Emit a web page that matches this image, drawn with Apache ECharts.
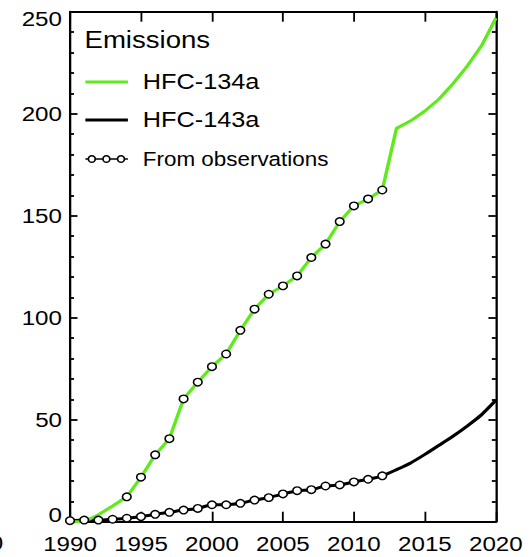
<!DOCTYPE html>
<html>
<head>
<meta charset="utf-8">
<script src="https://cdn.jsdelivr.net/npm/echarts@6/dist/echarts.min.js"></script>
<style>
  html, body { margin: 0; padding: 0; background: #fff; overflow: hidden; }
  #wrap { width: 530px; height: 557px; overflow: hidden; }
  /* the figure is laid out on a narrower canvas and widened horizontally */
  #chart { width: 461px; height: 557px; transform: scaleX(1.1497); transform-origin: 0 0; }
</style>
</head>
<body>
<div id="wrap"><div id="chart"></div></div>
<script>
// Years covered by the emission curves
const years = [1990, 1991, 1992, 1993, 1994, 1995, 1996, 1997, 1998, 1999,
               2000, 2001, 2002, 2003, 2004, 2005, 2006, 2007, 2008, 2009,
               2010, 2011, 2012, 2013, 2014, 2015, 2016, 2017, 2018, 2019, 2020];

// HFC-134a emissions (Gg/yr), full curve
const hfc134a = [0, 0, 3.4, 7.7, 12.2, 21.8, 32.8, 40.7, 60.2, 68.4,
                 76.0, 82.2, 93.8, 104.2, 111.5, 115.6, 120.5, 129.5, 136.1, 147.1,
                 154.8, 158.2, 162.6, 192.8, 196.5, 201.3, 207.2, 214.9, 223.5, 233.4, 246.8];

// HFC-143a emissions (Gg/yr), full curve
const hfc143a = [0.5, 0.8, 0.8, 1.2, 1.7, 2.5, 3.6, 4.6, 5.7, 6.5,
                 8.3, 8.3, 9.0, 10.6, 11.8, 13.6, 15.2, 15.7, 17.5, 18.0,
                 19.5, 20.8, 22.5, 25.5, 28.8, 33.0, 37.5, 42.0, 47.0, 52.5, 59.5];

// Observation-derived estimates
const obs134aYears = [1994, 1995, 1996, 1997, 1998, 1999, 2000, 2001, 2002, 2003,
                      2004, 2005, 2006, 2007, 2008, 2009, 2010, 2011, 2012];
const obs134a = [12.2, 21.8, 32.8, 40.7, 60.2, 68.4, 76.0, 82.2, 93.8, 104.2,
                 111.5, 115.6, 120.5, 129.5, 136.1, 147.1, 154.8, 158.2, 162.6];
const obs143aYears = [1990, 1991, 1992, 1993, 1994, 1995, 1996, 1997, 1998, 1999,
                      2000, 2001, 2002, 2003, 2004, 2005, 2006, 2007, 2008, 2009,
                      2010, 2011, 2012];
const obs143a = [0.5, 0.8, 0.8, 1.2, 1.7, 2.5, 3.6, 4.6, 5.7, 6.5,
                 8.3, 8.3, 9.0, 10.6, 11.8, 13.6, 15.2, 15.7, 17.5, 18.0,
                 19.5, 20.8, 22.5];

// Axis ticks
const xTicks = [1990, 1995, 2000, 2005, 2010, 2015, 2020];
const yTicks = [0, 50, 100, 150, 200, 250];

const GREEN = '#5fea1c';
const FONT = 'Liberation Sans, Arial, Helvetica, sans-serif';

const pairs = (xs, ys) => xs.map((x, i) => [x, ys[i]]);

// legend glyphs
const lineIcon = 'path://M0,0H37V3H0Z';
const obsIcon = 'path://M0,3.3H2.6M8.6,3.3H15.3M21.3,3.3H28M34,3.3H37' +
  'M2.6,3.3A3,3.3 0 1,0 8.6,3.3A3,3.3 0 1,0 2.6,3.3Z' +
  'M15.3,3.3A3,3.3 0 1,0 21.3,3.3A3,3.3 0 1,0 15.3,3.3Z' +
  'M28,3.3A3,3.3 0 1,0 34,3.3A3,3.3 0 1,0 28,3.3Z';

const chart = echarts.init(document.getElementById('chart'), null, { renderer: 'svg' });

const xAxisBase = {
  type: 'value',
  min: xTicks[0],
  max: xTicks[xTicks.length - 1],
  interval: 5,
  splitLine: { show: false },
  axisLine: { show: true, onZero: false, lineStyle: { color: '#000', width: 2 } },
  axisTick: { show: true, inside: true, length: 10, lineStyle: { color: '#000', width: 1.6 } }
};
const yAxisBase = {
  type: 'value',
  min: yTicks[0],
  max: yTicks[yTicks.length - 1],
  interval: 50,
  splitLine: { show: false },
  axisLine: { show: true, onZero: false, lineStyle: { color: '#000', width: 2 } },
  axisTick: { show: true, inside: true, length: 6.5, lineStyle: { color: '#000', width: 1.8 } },
  minorTick: { show: true, splitNumber: 5, length: 3.5, lineStyle: { color: '#000', width: 1.8 } }
};

chart.setOption({
  animation: false,
  backgroundColor: '#fff',
  textStyle: { fontFamily: FONT },
  title: {
    text: 'Emissions',
    left: 73.5,
    top: 28,
    padding: 0,
    textStyle: { fontSize: 24, fontWeight: 'normal', color: '#000', fontFamily: FONT }
  },
  legend: {
    orient: 'vertical',
    left: 73.5,
    top: 69,
    padding: 0,
    itemGap: 12,
    itemWidth: 37,
    itemHeight: 8,
    selectedMode: false,
    textStyle: { color: '#000', fontFamily: FONT, padding: [0, 0, 0, 8] },
    data: [
      { name: 'HFC-134a', icon: lineIcon, itemStyle: { color: GREEN, borderWidth: 0 },
        textStyle: { fontSize: 22, lineHeight: 26 } },
      { name: 'HFC-143a', icon: lineIcon, itemStyle: { color: '#000', borderWidth: 0 },
        textStyle: { fontSize: 22, lineHeight: 26 } },
      { name: 'From observations', icon: obsIcon,
        itemStyle: { color: '#fff', borderColor: '#000', borderWidth: 1.5 },
        textStyle: { fontSize: 19.5, lineHeight: 28 } }
    ]
  },
  grid: { left: 60.9, right: 29.7, top: 11.7, bottom: 35.3 },
  xAxis: [
    Object.assign({}, xAxisBase, {
      position: 'bottom',
      axisLabel: { show: true, fontSize: 21, color: '#000', margin: 12, fontFamily: FONT,
                   formatter: v => String(v) }
    }),
    Object.assign({}, xAxisBase, { position: 'top', axisLabel: { show: false } })
  ],
  yAxis: [
    Object.assign({}, yAxisBase, {
      position: 'left',
      axisLabel: { show: true, fontSize: 21, lineHeight: 14, color: '#000', margin: 7, fontFamily: FONT,
                   verticalAlignMinLabel: 'bottom', verticalAlignMaxLabel: 'top' }
    }),
    Object.assign({}, yAxisBase, { position: 'right', axisLabel: { show: false } })
  ],
  series: [
    {
      name: 'HFC-143a', type: 'line', xAxisIndex: 0, yAxisIndex: 0,
      data: pairs(years, hfc143a), showSymbol: false, symbol: 'none', smooth: 0.2,
      lineStyle: { color: '#000', width: 3 }, itemStyle: { color: '#000' }, z: 2
    },
    {
      name: 'HFC-134a', type: 'line', xAxisIndex: 0, yAxisIndex: 0,
      data: pairs(years, hfc134a), showSymbol: false, symbol: 'none',
      lineStyle: { color: GREEN, width: 3 }, itemStyle: { color: GREEN }, z: 3
    },
    {
      name: 'From observations', type: 'scatter', xAxisIndex: 0, yAxisIndex: 0,
      data: pairs(obs143aYears, obs143a), symbol: 'circle', symbolSize: 7.5,
      itemStyle: { color: '#fff', borderColor: '#000', borderWidth: 1.4, opacity: 1 }, z: 4
    },
    {
      name: 'From observations', type: 'scatter', xAxisIndex: 0, yAxisIndex: 0,
      data: pairs(obs134aYears, obs134a), symbol: 'circle', symbolSize: 7.5,
      itemStyle: { color: '#fff', borderColor: '#000', borderWidth: 1.4, opacity: 1 }, z: 4
    }
  ],
  graphic: [
    {
      type: 'text', left: -9, top: 533,
      style: { text: '0', fontSize: 21, fill: '#000', fontFamily: FONT }
    }
  ]
});
</script>
</body>
</html>
